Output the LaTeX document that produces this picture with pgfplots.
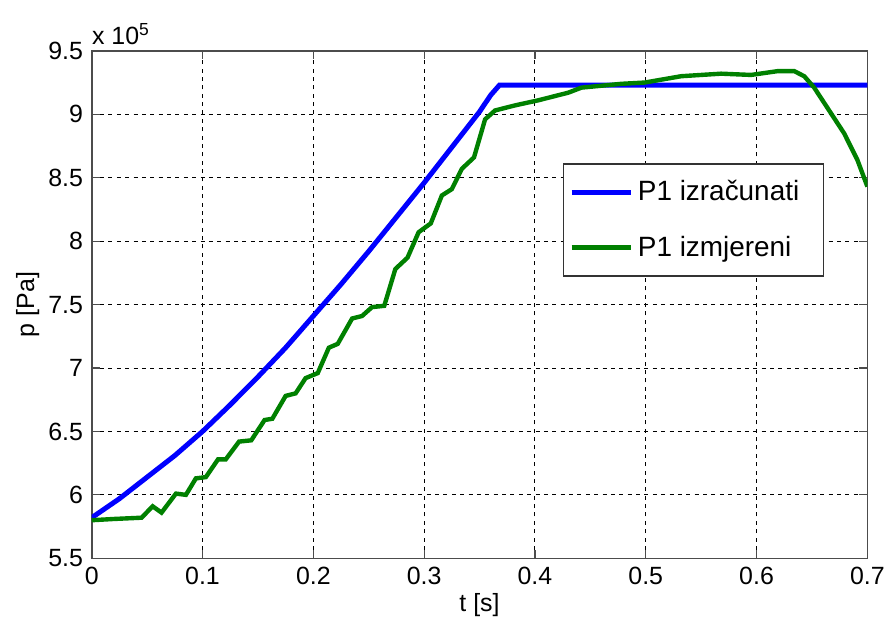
\documentclass[border=0pt]{standalone}
\usepackage{fontspec}
\setmainfont{Liberation Sans}
\usepackage{pgfplots}
\pgfplotsset{compat=1.18}

\definecolor{mblue}{RGB}{0,0,255}
\definecolor{mgreen}{RGB}{0,128,0}

\begin{document}
\fontsize{12.5}{15}\selectfont
\begin{tikzpicture}
\begin{axis}[
    name=ax,
    scale only axis,
    width=389pt, height=254.5pt,
    xmin=0, xmax=0.7, ymin=5.5, ymax=9.5,
    xtick={0,0.1,...,0.7},
    ytick={5.5,6,...,9.5},
    xticklabels={0,0.1,0.2,0.3,0.4,0.5,0.6,0.7},
    yticklabels={5.5,6,6.5,7,7.5,8,8.5,9,9.5},
    /pgf/number format/assume math mode=true,
    tick align=inside,
    major tick length=4pt,
    axis line style={black!70, line width=0.8pt},
    tick style={black!70, line width=0.6pt},
    grid=major,
    major grid style={black, line width=0.5pt, dash pattern=on 2pt off 2.2pt},
    xlabel={t [s]}, ylabel={p [Pa]},
    xlabel style={yshift=4pt},
    ylabel style={yshift=-4pt},
    legend style={at={(0.607,0.778)}, anchor=north west, draw=black!80,
        line width=0.6pt, inner xsep=3pt, inner ysep=6pt,
        row sep=12pt, font=\fontsize{14}{16}\selectfont},
    legend cell align=left,
    legend image post style={line width=2.5pt},
    legend image code/.code={\draw[#1] (0cm,0cm) -- (30pt,0cm);},
]
\addplot[mblue, line width=2.5pt] coordinates {
(0,5.82) (0.025,5.97) (0.05,6.14) (0.075,6.31) (0.1,6.50) (0.125,6.71)
(0.15,6.93) (0.175,7.16) (0.2,7.41) (0.225,7.66) (0.25,7.92) (0.275,8.19)
(0.3,8.46) (0.325,8.74) (0.35,9.02) (0.36,9.15) (0.368,9.23) (0.7,9.23)
};
\addlegendentry{P1 izračunati\rule{7pt}{0pt}}
\addplot[mgreen, line width=2.2pt] coordinates {
(0,5.80) (0.02,5.81) (0.045,5.82) (0.055,5.91) (0.063,5.86) (0.076,6.01)
(0.085,6.00) (0.094,6.13) (0.103,6.14) (0.114,6.28) (0.121,6.28) (0.133,6.42)
(0.144,6.43) (0.156,6.59) (0.163,6.60) (0.175,6.78) (0.184,6.80) (0.193,6.92)
(0.204,6.96) (0.214,7.16) (0.222,7.19) (0.235,7.39) (0.244,7.41) (0.253,7.48)
(0.264,7.49) (0.274,7.78) (0.285,7.87) (0.295,8.07) (0.306,8.14) (0.316,8.36)
(0.325,8.41) (0.334,8.57) (0.345,8.66) (0.355,8.96) (0.364,9.03) (0.382,9.07)
(0.403,9.11) (0.430,9.17) (0.442,9.21) (0.478,9.24) (0.499,9.25) (0.532,9.30)
(0.568,9.32) (0.595,9.31) (0.619,9.34) (0.634,9.34) (0.643,9.30) (0.652,9.21)
(0.667,9.01) (0.679,8.85) (0.691,8.64) (0.7,8.43)
};
\addlegendentry{P1 izmjereni}
\end{axis}
\node[anchor=south west, inner sep=0pt] at ([shift={(0pt,3pt)}]ax.north west) {x 10$^{\mathrm{5}}$};
\path[use as bounding box] ([shift={(-46pt,-30.5pt)}]ax.south west)
    rectangle ([shift={(11.5pt,25.5pt)}]ax.north east);
\end{tikzpicture}
\end{document}
